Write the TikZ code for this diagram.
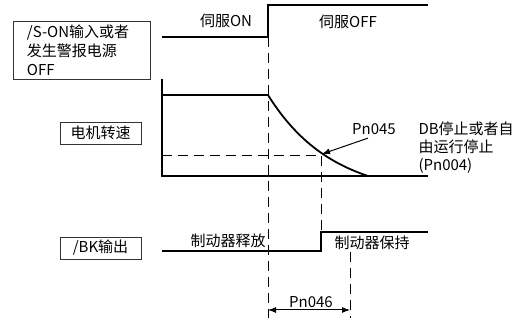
\documentclass[tikz,border=0pt]{standalone}
\usepackage{fontspec}
\setmainfont{Noto Sans CJK SC}
\usetikzlibrary{arrows.meta,positioning}
\begin{document}
\begin{tikzpicture}[x=1pt,y=-1pt,font=\fontsize{15}{19}\selectfont,
		sig/.style={line width=1.8pt},
		guide/.style={line width=0.9pt, dash pattern=on 10pt off 6pt},
		tag/.style={draw=black!80, line width=0.9pt, minimum width=81pt, minimum height=22pt, inner sep=0pt},
		>={Latex[length=8pt,width=6pt]}]
		\useasboundingbox (0,0) rectangle (523,326);
		% signal names
		\node (son) [tag, minimum width=137pt, minimum height=58pt, text width=109pt, align=left] at (81.5,50) {/S-ON输入或者\\发生警报电源\\OFF};
		\node (spd) [tag] at (100.5,133) {电机转速};
		\node (bk) [tag] at (100.5,248) {/BK输出};
		% servo on/off
		\coordinate (ton) at (268,37);
		\draw[sig] (162,37) -- (ton) |- (428,5);
		\node (on) at (226,21) {伺服ON};
		\node (off) at (348,22) {伺服OFF};
		% motor speed
		\draw[line width=1.2pt] (162,79) -- (162,176) -- (428,176);
		\draw[sig] (162,95) -- (268,95);
		\draw[sig] plot[domain=0:100,samples=50] ({268+\x},{95+102.5*(1-exp(-\x/64))});
		\coordinate (db) at (322,154);
		\draw[guide] (162,155) -- (321,155) -- (321,232);
		\node (pn45) at (374,129) {Pn045};
		\node (dbtxt) [anchor=north west, align=left, font=\fontsize{15}{18}\selectfont] at (415,118) {DB停止或者自\\由运行停止\\(Pn004)};
		\draw[->, line width=1pt] ([xshift=-6pt]pn45.south) -- (db);
		% brake output
		\draw[sig] (162,251) -- (321,251) |- (428,232);
		\node (rel) at (228,241) {制动器释放};
		\node (hold) at (372,243) {制动器保持};
		% timing guides
		\coordinate (tk) at (350,252);
		\coordinate (a1) at (268,310);
		\coordinate (a2) at (350,310);
		\draw[guide] (ton) -- (268,318);
		\draw[guide] (tk) -- (350,318);
		\draw[<->, line width=1pt] (a1) -- (a2);
		\node (pn46) at (311,302) {Pn046};
\end{tikzpicture}
\end{document}
